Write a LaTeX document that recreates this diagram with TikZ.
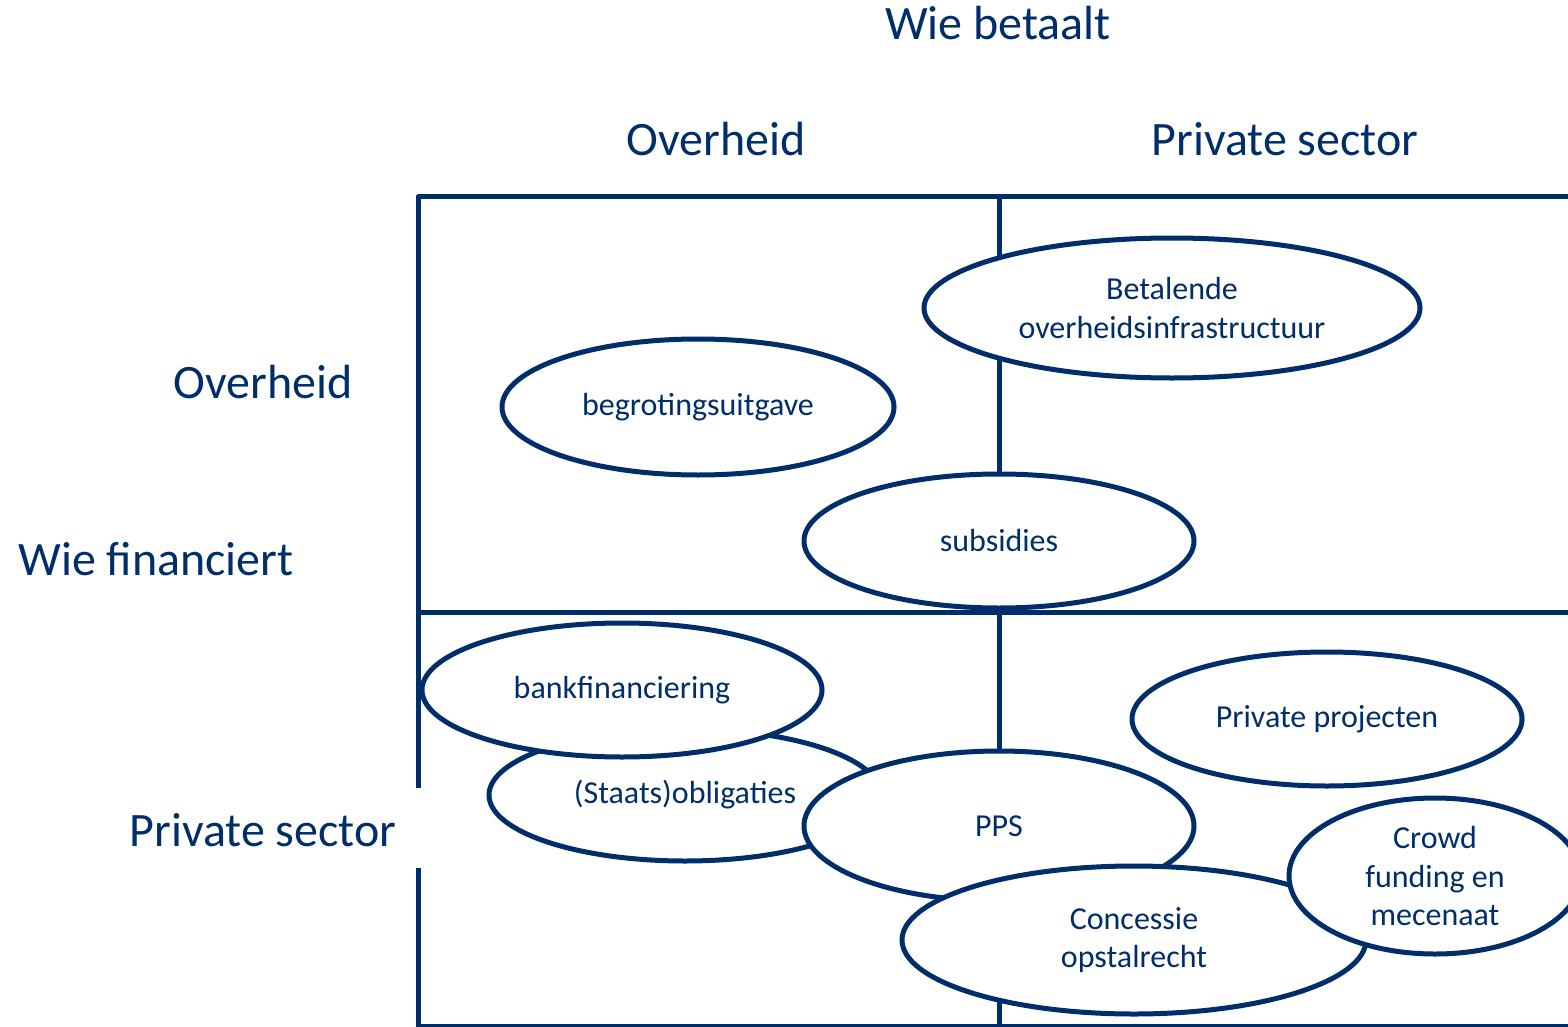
\documentclass[tikz,border=0pt]{standalone}
\usepackage{fontspec}
\setmainfont{Carlito}
\usetikzlibrary{shapes.geometric}
\definecolor{navy}{RGB}{0,46,106}
\begin{document}
\begin{tikzpicture}[x=1pt,y=-1pt,line join=round,
  kop/.style={text=navy,font=\fontsize{48}{56}\selectfont,anchor=base,inner sep=0pt},
  ovaal/.style={ellipse,draw=navy,fill=white,line width=5pt,inner sep=0pt,text=navy,align=center,font=\fontsize{32}{38.5}\selectfont}]
\useasboundingbox (0,0) rectangle (1568,1027);
\def \xl{418};
\def \xm{999};
\def \ytop{197};
\def \ymid{612};
\draw[navy,line width=5pt] (\xl,\ymid) -- (\xl,\ytop) -- (1568,\ytop) (\xl,\ymid) -- (1568,\ymid) (\xm,\ytop) -- (\xm,1025);
\draw[navy,line width=5pt] (\xl,\ymid) -- (\xl,788) (\xl,868) -- (\xl,1027);
\draw[navy,line width=3pt] (\xl,1025.5) -- (1568,1025.5);
\node[kop] (wiebetaalt) at (998,40) {Wie betaalt};
\node[kop] (kolgov) at (716,156) {Overheid};
\node[kop] (kolpriv) at (1285,156) {Private sector};
\node[kop] (rijgov) at (263,398) {Overheid};
\node[kop] (wiefin) at (156,575) {Wie financiert};
\node[kop] (rijpriv) at (263,846) {Private sector};
\node[ovaal,minimum width=496,minimum height=140] (betalende) at (1172,308) {Betalende\\overheidsinfrastructuur};
\node[ovaal,minimum width=392,minimum height=136] (begroting) at (698,407) {begrotingsuitgave};
\node[ovaal,minimum width=390,minimum height=134] (subsidies) at (999,541) {subsidies};
\node[ovaal,minimum width=392,minimum height=132] (obligaties) at (685,795) {(Staats)obligaties};
\node[ovaal,minimum width=400,minimum height=134] (bank) at (622,690) {bankfinanciering};
\node[ovaal,minimum width=390,minimum height=150] (pps) at (999,826) {PPS};
\node[ovaal,minimum width=390,minimum height=134] (privproj) at (1327,719) {Private projecten};
\node[ovaal,minimum width=464,minimum height=148] (concessie) at (1134,940) {Concessie\\opstalrecht};
\node[ovaal,minimum width=292,minimum height=156] (crowd) at (1435,876) {Crowd\\funding en\\mecenaat};
\end{tikzpicture}
\end{document}
